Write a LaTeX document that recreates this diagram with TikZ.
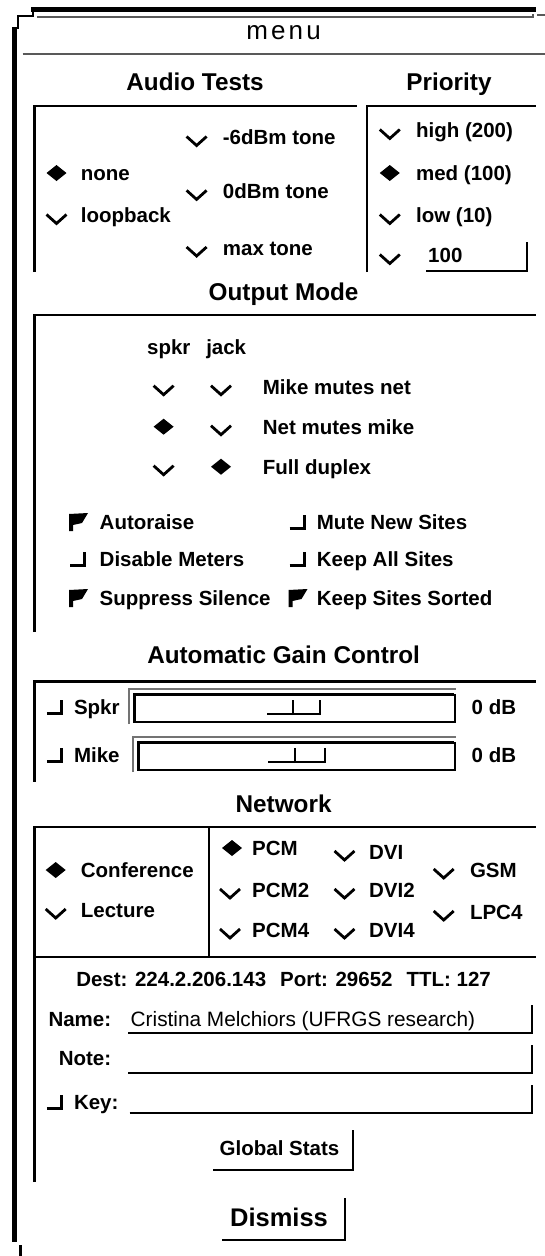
\documentclass[tikz,border=0pt]{standalone}
\usepackage{fontspec}
\setmainfont{Liberation Sans}
\newfontfamily\uimenufam[LetterSpace=12]{Liberation Sans}
\newcommand\uiitem{\fontsize{20.5}{24}\selectfont\bfseries}
\newcommand\uihead{\fontsize{24.3}{28}\selectfont\bfseries}
\newcommand\uifield{\fontsize{20.8}{24}\selectfont}
\begin{document}
\begin{tikzpicture}[x=1pt,y=-1pt,
  frame/.style={line width=2.5pt,black},
  etch/.style={line width=2pt,black!65},
  fieldline/.style={line width=2pt,black},
  shadow/.style={line width=2.8pt,black},
  txt/.style={inner sep=0pt,anchor=base west,yshift=-7.4pt,font=\uiitem},
  rtxt/.style={inner sep=0pt,anchor=base east,yshift=-7.4pt,font=\uiitem},
  ctxt/.style={inner sep=0pt,anchor=base,yshift=-7.4pt,font=\uiitem},
  head/.style={inner sep=0pt,anchor=base,yshift=-8.7pt,font=\uihead},
  chk/.pic={\draw[line width=2.8pt,line join=miter] (-10,-1) -- (0,8) -- (10,-1);},
  dia/.pic={\fill[line join=round] (-10,0) -- (0,-8) -- (10,0) -- (0,8) -- cycle;},
  cbox/.pic={\draw[line width=3pt] (-8,6.5) -- (6.5,6.5) -- (6.5,-7);},
  cflag/.pic={\fill (-9,-8) -- (10,-9) -- (4,1) -- (-5,3) -- (-5,9) -- (-9,9) -- cycle;}
]
\useasboundingbox (0,0) rectangle (545,1256);
\newcommand\opt[6]{\pic at (#3,#5) {#2}; \node[txt] (#1) at (#4,#5) {#6};}

% window chrome
\draw[line width=5pt] (31,9.5) -- (536,9.5);
\draw[line width=2pt] (32.5,7) -- (32.5,15.5) -- (17.5,15.5) -- (17.5,27.5) -- (12,27.5);
\draw[line width=5pt] (14.3,27) -- (14.3,1242);
\draw[etch] (37,17) -- (533,17) -- (533,13.5);
\draw[etch] (537,15) -- (545,15);
\draw[etch] (22.7,53.5) -- (545,53.5);
\draw[line width=3pt] (20,1245) -- (20,1256);
\node[font=\uimenufam\fontsize{26}{30}\selectfont,inner sep=0pt] (title) at (283.6,33) {menu};

% Audio Tests / Priority
\node[head] (hAudio) at (195,82) {Audio Tests};
\node[head] (hPrio) at (449,82) {Priority};
\draw[frame] (34.5,272) -- (34.5,106) -- (357,106);
\draw[frame] (367,272) -- (367,106) -- (536,106);
\opt{aNone}{dia}{56.5}{80.7}{173}{none}
\opt{aLoop}{chk}{56.5}{80.7}{215.5}{loopback}
\opt{aSix}{chk}{196.6}{222.7}{137.5}{-6dBm tone}
\opt{aZero}{chk}{196.6}{222.7}{191.4}{0dBm tone}
\opt{aMax}{chk}{196.6}{222.7}{248}{max tone}
\opt{pHigh}{chk}{389.8}{415.9}{130.5}{high (200)}
\opt{pMed}{dia}{389.8}{415.9}{173}{med (100)}
\opt{pLow}{chk}{389.8}{415.9}{215.5}{low (10)}
\opt{pVal}{chk}{389.8}{428}{255.5}{100}
\draw[fieldline] (426.3,271.4) -- (527.2,271.4) -- (527.2,241.9);

% Output Mode
\node[head] (hOut) at (283.6,292) {Output Mode};
\draw[frame] (34.5,632) -- (34.5,315) -- (536,315);
\node[ctxt] (cSpkr) at (168.8,346.7) {spkr};
\node[ctxt] (cJack) at (226.2,346.7) {jack};
\pic at (163.6,386.7) {chk}; \pic at (221,386.7) {chk};
\node[txt] (mMike) at (262.7,386.7) {Mike mutes net};
\pic at (163.6,426.7) {dia}; \pic at (221,426.7) {chk};
\node[txt] (mNet) at (262.7,426.7) {Net mutes mike};
\pic at (163.6,466.7) {chk}; \pic at (221,466.7) {dia};
\node[txt] (mFull) at (262.7,466.7) {Full duplex};
\opt{oAuto}{cflag}{78}{99.5}{522}{Autoraise}
\opt{oDis}{cbox}{78}{99.5}{559}{Disable Meters}
\opt{oSup}{cflag}{78}{99.5}{598}{Suppress Silence}
\opt{oMute}{cbox}{297.5}{316.7}{522}{Mute New Sites}
\opt{oKeep}{cbox}{297.5}{316.7}{559}{Keep All Sites}
\opt{oSort}{cflag}{297.5}{316.7}{598}{Keep Sites Sorted}

% Automatic Gain Control
\node[head] (hAgc) at (283.6,655) {Automatic Gain Control};
\draw[frame] (34.5,781.7) -- (34.5,681.5) -- (536,681.5);
\opt{gSpkr}{cbox}{54.8}{73.8}{707}{Spkr}
\opt{gMike}{cbox}{54.8}{73.8}{755}{Mike}
\node[txt] (gSpkrDb) at (471.5,707) {0 dB};
\node[txt] (gMikeDb) at (471.5,755) {0 dB};
% speaker gain slider
\draw[line width=1.5pt,black!55] (129,724) -- (129,689) -- (456,689);
\draw[line width=3pt] (134.5,722) -- (134.5,694.5) -- (454,694.5);
\draw[line width=1.5pt] (133,722) -- (455,722) -- (455,694);
\draw[line width=2pt] (267,714) -- (320,714) (293,715) -- (293,700) (320,715) -- (320,700);
% microphone gain slider
\draw[line width=1.5pt,black!55] (133,772) -- (133,737) -- (456,737);
\draw[line width=3pt] (138.5,770) -- (138.5,742.5) -- (454,742.5);
\draw[line width=1.5pt] (137,770) -- (455,770) -- (455,742);
\draw[line width=2pt] (268,762) -- (325,762) (295,763) -- (295,748) (325,763) -- (325,748);

% Network
\node[head] (hNet) at (283.6,803.3) {Network};
\draw[frame] (34.5,1182) -- (34.5,827) -- (536,827);
\draw[frame] (209,827) -- (209,957);
\draw[frame] (34.5,957) -- (536,957);
\opt{nConf}{dia}{55.7}{80.7}{870}{Conference}
\opt{nLect}{chk}{55.7}{80.7}{910}{Lecture}
\opt{nPcm}{dia}{232}{252}{848}{PCM}
\opt{nPcmTwo}{chk}{230}{252}{890}{PCM2}
\opt{nPcmFour}{chk}{230}{252}{930}{PCM4}
\opt{nDvi}{chk}{344.5}{368.9}{852}{DVI}
\opt{nDviTwo}{chk}{344.5}{368.9}{890}{DVI2}
\opt{nDviFour}{chk}{344.5}{368.9}{930}{DVI4}
\opt{nGsm}{chk}{443.7}{469.8}{870}{GSM}
\opt{nLpc}{chk}{443.7}{469.8}{912}{LPC4}

\node[ctxt] (dest) at (283.6,979) {Dest: 224.2.206.143\hspace{14pt}Port: 29652\hspace{14pt}TTL: 127};
\node[rtxt] (lName) at (111.4,1019) {Name:};
\node[inner sep=0pt,anchor=base west,yshift=-7.4pt,font=\uifield] (vName) at (130.5,1019) {Cristina Melchiors (UFRGS research)};
\draw[fieldline] (128,1033.3) -- (532.4,1033.3) -- (532.4,1005);
\node[rtxt] (lNote) at (111.4,1058) {Note:};
\draw[fieldline] (128,1073.3) -- (532.4,1073.3) -- (532.4,1045);
\opt{lKey}{cbox}{54.8}{73.8}{1102}{Key:}
\draw[fieldline] (129.5,1113.3) -- (532.4,1113.3) -- (532.4,1085);

% buttons
\node[ctxt] (bStats) at (279.5,1148) {Global Stats};
\draw[shadow] (213,1170) -- (353,1170) -- (353,1130);
\node[inner sep=0pt,anchor=base,yshift=-9pt,font=\fontsize{25.5}{30}\selectfont\bfseries] (bDismiss) at (279,1217) {Dismiss};
\draw[shadow] (222,1240) -- (345,1240) -- (345,1198);
\end{tikzpicture}
\end{document}
